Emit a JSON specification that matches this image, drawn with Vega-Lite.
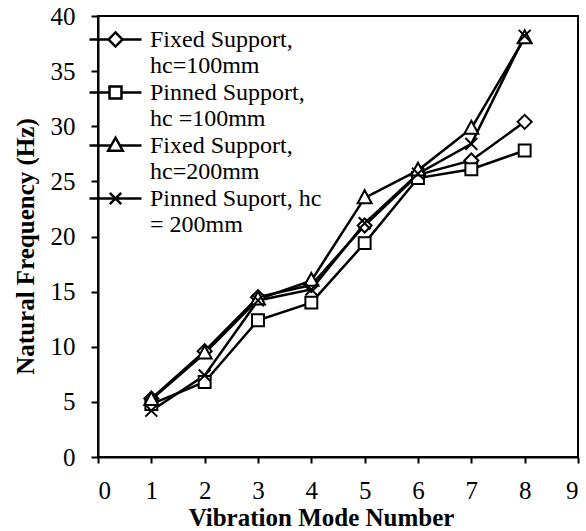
{
  "$schema": "https://vega.github.io/schema/vega-lite/v6.json",
  "width": 480,
  "height": 441,
  "autosize": {"type": "none"},
  "padding": {"left": 98, "top": 16, "right": 8, "bottom": 74},
  "background": "white",
  "config": {
    "view": {"stroke": "black", "strokeWidth": 2},
    "font": "Liberation Serif",
    "axis": {
      "grid": false,
      "domainColor": "black",
      "domainWidth": 2,
      "tickColor": "black",
      "tickWidth": 2,
      "labelColor": "black",
      "labelFont": "Liberation Serif",
      "labelFontSize": 25,
      "titleFont": "Liberation Serif",
      "titleFontSize": 25,
      "titleFontWeight": "bold",
      "titleColor": "black"
    }
  },
  "data": {
    "values": [
      {"mode": 1, "freq": 5.3, "series": "F100"},
      {"mode": 2, "freq": 9.6, "series": "F100"},
      {"mode": 3, "freq": 14.5, "series": "F100"},
      {"mode": 4, "freq": 15.6, "series": "F100"},
      {"mode": 5, "freq": 21.0, "series": "F100"},
      {"mode": 6, "freq": 25.6, "series": "F100"},
      {"mode": 7, "freq": 26.9, "series": "F100"},
      {"mode": 8, "freq": 30.4, "series": "F100"},
      {"mode": 1, "freq": 4.8, "series": "P100"},
      {"mode": 2, "freq": 6.8, "series": "P100"},
      {"mode": 3, "freq": 12.4, "series": "P100"},
      {"mode": 4, "freq": 14.0, "series": "P100"},
      {"mode": 5, "freq": 19.4, "series": "P100"},
      {"mode": 6, "freq": 25.3, "series": "P100"},
      {"mode": 7, "freq": 26.1, "series": "P100"},
      {"mode": 8, "freq": 27.8, "series": "P100"},
      {"mode": 1, "freq": 5.2, "series": "F200"},
      {"mode": 2, "freq": 9.4, "series": "F200"},
      {"mode": 3, "freq": 14.3, "series": "F200"},
      {"mode": 4, "freq": 16.0, "series": "F200"},
      {"mode": 5, "freq": 23.5, "series": "F200"},
      {"mode": 6, "freq": 26.0, "series": "F200"},
      {"mode": 7, "freq": 29.8, "series": "F200"},
      {"mode": 8, "freq": 38.0, "series": "F200"},
      {"mode": 1, "freq": 4.2, "series": "P200"},
      {"mode": 2, "freq": 7.4, "series": "P200"},
      {"mode": 3, "freq": 14.2, "series": "P200"},
      {"mode": 4, "freq": 15.2, "series": "P200"},
      {"mode": 5, "freq": 21.2, "series": "P200"},
      {"mode": 6, "freq": 25.7, "series": "P200"},
      {"mode": 7, "freq": 28.4, "series": "P200"},
      {"mode": 8, "freq": 38.2, "series": "P200"}
    ]
  },
  "encoding": {
    "x": {
      "field": "mode", "type": "quantitative",
      "scale": {"domain": [0, 9], "nice": false},
      "axis": {"values": [0,1,2,3,4,5,6,7,8,9], "tickSize": 6, "labelPadding": 15, "title": "Vibration Mode Number", "titlePadding": 2, "titleX": 223}
    },
    "y": {
      "field": "freq", "type": "quantitative",
      "scale": {"domain": [0, 40], "nice": false},
      "axis": {"values": [0,5,10,15,20,25,30,35,40], "tickSize": 7, "labelPadding": 16, "title": "Natural Frequency (Hz)", "titlePadding": 12, "titleY": 230}
    }
  },
  "resolve": {"scale": {"shape": "independent"}, "legend": {"shape": "independent"}},
  "layer": [
    {
      "mark": {"type": "line", "stroke": "black", "strokeWidth": 2.5},
      "encoding": {"detail": {"field": "series"}}
    },
    {
      "mark": {"type": "point", "filled": true, "fill": "white", "stroke": "black", "strokeWidth": 2, "opacity": 1, "size": 196},
      "encoding": {
        "shape": {
          "field": "series", "type": "nominal",
          "scale": {
            "domain": ["F100", "P100", "F200", "P200"],
            "range": [
              "M0,-1L1,0L0,1L-1,0Z",
              "M-0.85,-0.85H0.85V0.85H-0.85Z",
              "M0,-1.1L1,0.75H-1Z",
              "M-0.85,-0.85L0.85,0.85M-0.85,0.85L0.85,-0.85"
            ]
          },
          "legend": null
        }
      }
    },
    {
      "transform": [{"filter": "datum.mode < 0"}],
      "mark": {"type": "point", "filled": false, "color": "black", "strokeWidth": 2.5, "opacity": 1},
      "encoding": {
        "shape": {
          "field": "series", "type": "nominal",
          "scale": {
            "domain": ["F100", "P100", "F200", "P200"],
            "range": [
              "M-2,0H-0.54M0.54,0H2M0,-0.54L0.54,0L0,0.54L-0.54,0Z",
              "M-2,0H-0.46M0.46,0H2M-0.46,-0.46H0.46V0.46H-0.46Z",
              "M-2,0H-0.34M0.34,0H2M0,-0.6L0.56,0.4H-0.56Z",
              "M-2,0H2M-0.44,-0.44L0.44,0.44M-0.44,0.44L0.44,-0.44"
            ]
          },
          "legend": {
            "title": null,
            "orient": "none",
            "legendX": 3,
            "legendY": 9,
            "padding": 0,
            "rowPadding": -1,
            "symbolSize": 676,
            "symbolStrokeWidth": 2.5,
            "symbolStrokeColor": "black",
            "symbolFillColor": "white",
            "symbolOpacity": 1,
            "labelFont": "Liberation Serif",
            "labelFontSize": 24,
            "labelColor": "black",
            "labelOffset": 20,
            "labelLimit": 300,
            "labelExpr": "datum.value === 'F100' ? ['Fixed Support,', 'hc=100mm'] : datum.value === 'P100' ? ['Pinned Support,', 'hc =100mm'] : datum.value === 'F200' ? ['Fixed Support,', 'hc=200mm'] : ['Pinned Suport, hc', '= 200mm']",
            "encode": {
              "labels": {
                "lineHeight": {"value": 26},
                "baseline": {"value": "middle"}
              }
            }
          }
        }
      }
    }
  ]
}
